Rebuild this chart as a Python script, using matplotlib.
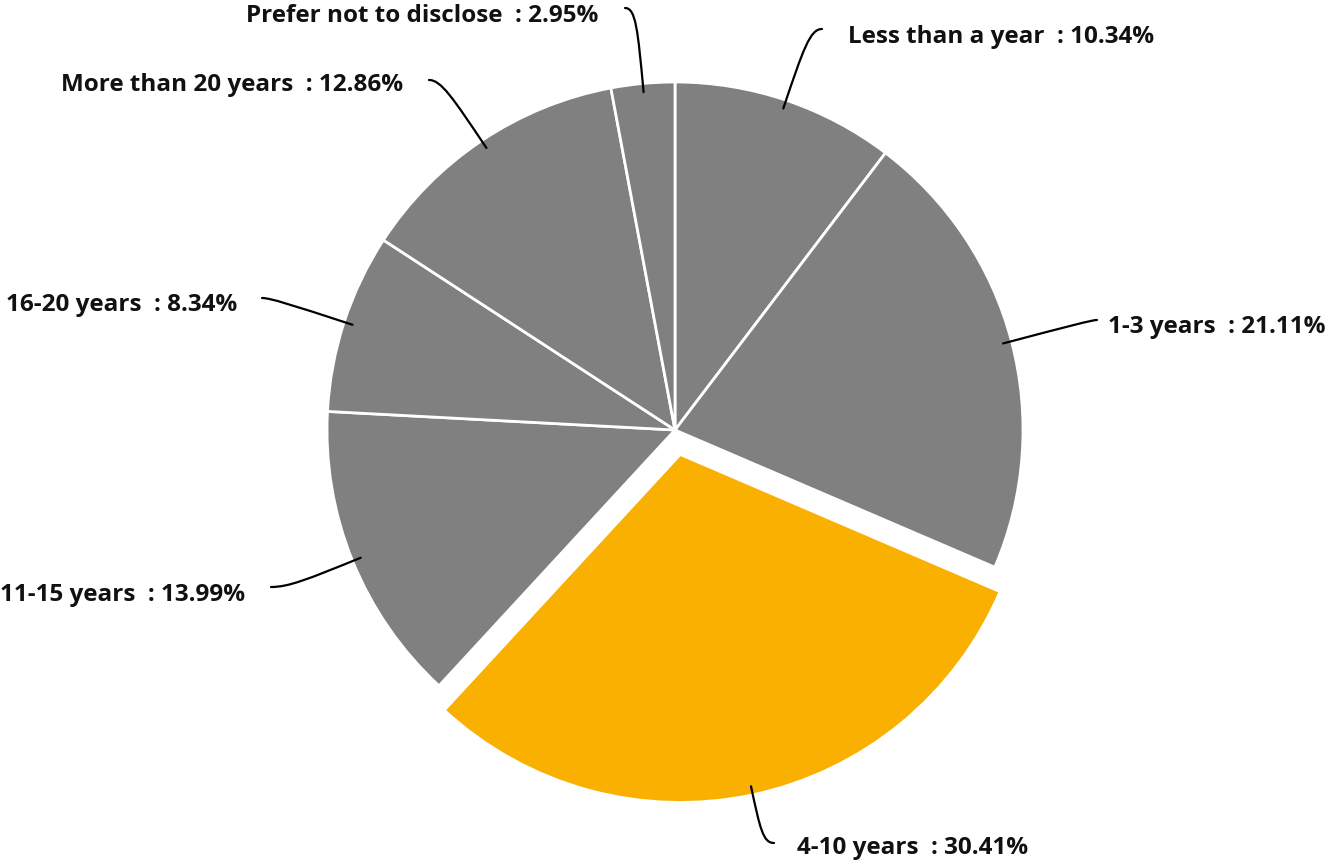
import numpy as np
import matplotlib.pyplot as plt
from matplotlib.path import Path
from matplotlib.patches import PathPatch

# Data
categories = ['Less than a year', '1-3 years', '4-10 years', '11-15 years',
              '16-20 years', 'More than 20 years', 'Prefer not to disclose']
shares = [10.34, 21.11, 30.41, 13.99, 8.34, 12.86, 2.95]
highlight = '4-10 years'

GREY = '#808080'
ORANGE = '#F9B000'

# label layout (pixel coords of the figure): text anchor, alignment, leader end
label_pos = {
    'Less than a year':       (848, 37, 'left', (822, 29)),
    '1-3 years':              (1326, 327, 'right', (1097, 320)),
    '4-10 years':             (797, 848, 'left', (774, 843)),
    '11-15 years':            (245, 595, 'right', (271, 587)),
    '16-20 years':            (237, 305, 'right', (262, 298)),
    'More than 20 years':     (403, 85, 'right', (429, 80)),
    'Prefer not to disclose': (598, 16, 'right', (625, 8)),
}

plt.rcParams['font.family'] = ['Open Sans', 'DejaVu Sans']

fig = plt.figure(figsize=(13.32, 8.65), dpi=100)
ax = fig.add_axes([0, 0, 1, 1])

cx, cy, r = 675, 430, 348
colors = [ORANGE if c == highlight else GREY for c in categories]
# explode is in data units here (pixels)
explode = [25 if c == highlight else 0 for c in categories]

wedges, _ = ax.pie(shares, colors=colors, explode=explode, startangle=-90,
                   counterclock=True, center=(cx, cy), radius=r, frame=True,
                   wedgeprops=dict(edgecolor='white', linewidth=2))
ax.set_xlim(0, 1332)
ax.set_ylim(865, 0)
ax.set_aspect('equal')
ax.axis('off')

for w, cat, val in zip(wedges, categories, shares):
    mid = np.deg2rad((w.theta1 + w.theta2) / 2)
    wx, wy = w.center
    d = np.array([np.cos(mid), np.sin(mid)])
    p0 = np.array([wx, wy]) + d * r * 0.975
    tx, ty, ha, end = label_pos[cat]
    end = np.array(end, dtype=float)
    # elbow where radial line reaches the label height
    t = (end[1] - p0[1]) / d[1]
    elbow = p0 + d * t
    p1 = p0 + (elbow - p0) * 0.75
    path = Path([p0, p1, elbow, end],
                [Path.MOVETO, Path.CURVE4, Path.CURVE4, Path.CURVE4])
    ax.add_patch(PathPatch(path, fill=False, edgecolor='black', linewidth=1.6,
                           capstyle='round'))
    ax.text(tx, ty, f'{cat}  : {val:.2f}%', ha=ha, va='center',
            fontsize=17.5, fontweight='bold', color='#111111')

fig.savefig('out.png', dpi=100)
